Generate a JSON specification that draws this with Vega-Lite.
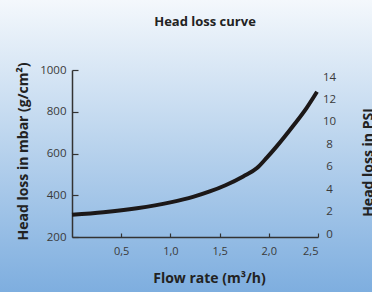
{
  "$schema": "https://vega.github.io/schema/vega-lite/v6.json",
  "width": 372,
  "height": 292,
  "autosize": {"type": "none"},
  "padding": 0,
  "background": "#7eaedf",
  "title": {"text": "Head loss curve", "fontSize": 13, "fontWeight": "bold", "font": "Open Sans", "color": "#222222", "anchor": "middle", "frame": "group", "dx": 19, "offset": -39, "baseline": "alphabetic"},
  "config": {
    "view": {"stroke": null, "fill": {"gradient": "linear", "x1": 0, "y1": 0, "x2": 0, "y2": 1, "stops": [{"offset": 0, "color": "#f4f8fc"}, {"offset": 0.5, "color": "#b9d3ed"}, {"offset": 1, "color": "#7eaedf"}]}},
    "axis": {"labelFont": "Open Sans", "titleFont": "Open Sans", "labelColor": "#3a3a3a", "titleColor": "#222222", "domainColor": "#333333", "tickColor": "#333333", "grid": false}
  },
  "datasets": {
    "curve": [
      {"flow": 0, "mbar": 307},
      {"flow": 0.32, "mbar": 319},
      {"flow": 0.66, "mbar": 338},
      {"flow": 1.0, "mbar": 366},
      {"flow": 1.23, "mbar": 392},
      {"flow": 1.4, "mbar": 418},
      {"flow": 1.56, "mbar": 448},
      {"flow": 1.74, "mbar": 490},
      {"flow": 1.88, "mbar": 530},
      {"flow": 1.98, "mbar": 580},
      {"flow": 2.08, "mbar": 634},
      {"flow": 2.25, "mbar": 734},
      {"flow": 2.385, "mbar": 819},
      {"flow": 2.49, "mbar": 896}
    ],
    "psi": [{"flow": 0, "psi": 0}, {"flow": 2.5, "psi": 14}]
  },
  "layer": [
    {
      "data": {"name": "curve"},
      "mark": {"type": "line", "color": "#1c1818", "strokeWidth": 4, "interpolate": "monotone", "strokeCap": "butt"},
      "encoding": {
        "x": {"field": "flow", "type": "quantitative", "scale": {"domain": [0, 2.5], "nice": false, "range": [72, 318]},
          "axis": {"offset": -55, "title": "Flow rate (m³/h)", "titleFontSize": 14, "titleFontWeight": "bold", "titleX": 209, "titleY": 45, "titleBaseline": "alphabetic", "titleAlign": "center",
            "values": [0.5, 1, 1.5, 2, 2.5], "labelExpr": "replace(format(datum.value, '.1f'), '.', ',')", "labelFontSize": 11, "tickSize": -4, "labelPadding": 12, "domainWidth": 1.5, "tickWidth": 1.2}},
        "y": {"field": "mbar", "type": "quantitative", "scale": {"domain": [200, 1000], "nice": false, "range": [237, 70]},
          "axis": {"offset": -72, "title": "Head loss in mbar (g/cm²)", "titleFontSize": 14, "titleFontWeight": "bold", "titleAngle": 270, "titleX": -45, "titleY": 151, "titleBaseline": "alphabetic", "titleAlign": "center",
            "values": [200, 400, 600, 800, 1000], "format": "d", "labelFontSize": 11.5, "tickSize": -6, "labelPadding": 12, "domainWidth": 1.5, "tickWidth": 1.2}}
      }
    },
    {
      "data": {"name": "psi"},
      "mark": {"type": "point", "opacity": 0},
      "encoding": {
        "x": {"field": "flow", "type": "quantitative"},
        "y": {"field": "psi", "type": "quantitative", "scale": {"domain": [0, 14], "nice": false, "zero": false, "range": [234, 77]},
          "axis": {"orient": "right", "offset": -54, "title": "Head loss in PSI", "titleFontSize": 14, "titleFontWeight": "bold", "titleAngle": 270, "titleX": 54, "titleY": 162, "titleBaseline": "alphabetic", "titleAlign": "center",
            "values": [0, 2, 4, 6, 8, 10, 12, 14], "labelFontSize": 11.5, "labelAlign": "center", "ticks": false, "domain": false, "labelPadding": 11}}
      }
    }
  ],
  "resolve": {"scale": {"y": "independent"}}
}
